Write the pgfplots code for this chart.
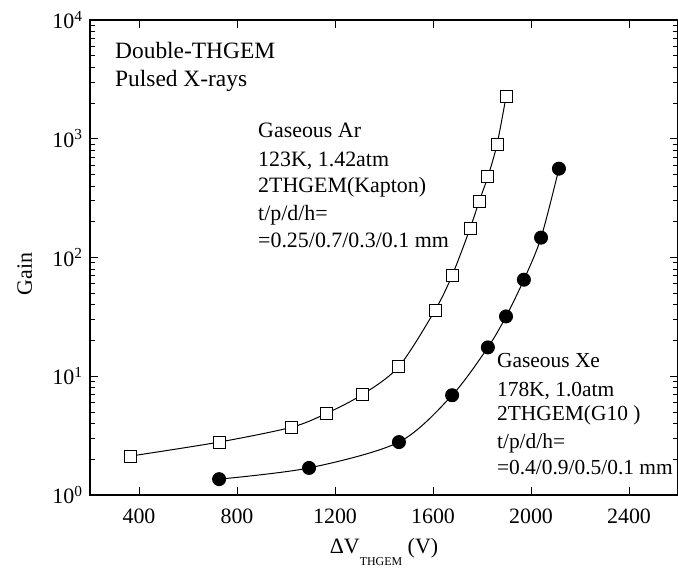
\documentclass[border=0pt]{standalone}
\usepackage{fontspec}
\setmainfont{Liberation Serif}
\usepackage{pgfplots}
\pgfplotsset{compat=1.18}
\usetikzlibrary{calc}
\begin{document}
\fontsize{22}{26}\selectfont
\begin{tikzpicture}
\begin{semilogyaxis}[
  at={(0,0)}, anchor=south west,
  scale only axis, width=588bp, height=475bp,
  xmin=200, xmax=2600, ymin=1, ymax=10000,
  xtick={400,800,1200,1600,2000,2400},
  xticklabels={400,800,1200,1600,2000,2400},
  ytick={1,10,100,1000,10000},
  yticklabels={10\textsuperscript{0},10\textsuperscript{1},10\textsuperscript{2},10\textsuperscript{3},10\textsuperscript{4}},
  tick align=inside, tick pos=both,
  major tick length=8bp, minor tick length=5bp,
  every tick/.style={black, line width=1pt},
  axis line style={line width=1.3pt},
  xminorticks=false,
  tick label style={font=\fontsize{22}{26}\selectfont},
  xticklabel style={yshift=-6bp},
  label style={font=\fontsize{22}{26}\selectfont},
  xlabel={ΔV\raisebox{-12bp}{\fontsize{12}{12}\selectfont THGEM} (V)},
  ylabel={Gain},
  xlabel style={at={(rel axis cs:0.5,0)}, anchor=base, yshift=-58bp},
  ylabel style={at={($(rel axis cs:0,0.465)+(-58bp,0)$)}, anchor=base},
  clip=false,
]
\addplot[black, line width=1pt, smooth, mark=square*, mark size=6bp, mark options={fill=white, line width=0.9pt}] coordinates {
(367,2.13) (727,2.79) (1024,3.73) (1167,4.89) (1314,7.06) (1461,12.1) (1608,35.9) (1678,70.6) (1751,175) (1788,296) (1824,480) (1861,891) (1898,2254)
};
\addplot[black, line width=1pt, smooth, mark=*, mark size=6.5bp, mark options={fill=black}] coordinates {
(727,1.36) (1094,1.69) (1461,2.79) (1678,6.92) (1824,17.5) (1898,31.9) (1971,65) (2041,147) (2114,560)
};
\node[anchor=base west, inner sep=0, font=\fontsize{23.5}{28}\selectfont] at (rel axis cs:0.0425,0.920) {Double-THGEM};
\node[anchor=base west, inner sep=0, font=\fontsize{23.5}{28}\selectfont] at (rel axis cs:0.0425,0.861) {Pulsed X-rays};
\node[anchor=base west, inner sep=0] at (rel axis cs:0.2857,0.7516) {Gaseous Ar};
\node[anchor=base west, inner sep=0] at (rel axis cs:0.2857,0.6926) {123K, 1.42atm};
\node[anchor=base west, inner sep=0] at (rel axis cs:0.2857,0.6358) {2THGEM(Kapton)};
\node[anchor=base west, inner sep=0] at (rel axis cs:0.2857,0.5789) {t/p/d/h=};
\node[anchor=base west, inner sep=0] at (rel axis cs:0.2857,0.5221) {=0.25/0.7/0.3/0.1 mm};
\node[anchor=base west, inner sep=0, font=\fontsize{21.5}{26}\selectfont] at (rel axis cs:0.692,0.2674) {Gaseous Xe};
\node[anchor=base west, inner sep=0, font=\fontsize{21.5}{26}\selectfont] at (rel axis cs:0.692,0.2084) {178K, 1.0atm};
\node[anchor=base west, inner sep=0, font=\fontsize{21.5}{26}\selectfont] at (rel axis cs:0.692,0.1558) {2THGEM(G10 )};
\node[anchor=base west, inner sep=0, font=\fontsize{21.5}{26}\selectfont] at (rel axis cs:0.692,0.0989) {t/p/d/h=};
\node[anchor=base west, inner sep=0, font=\fontsize{21.5}{26}\selectfont] at (rel axis cs:0.692,0.0442) {=0.4/0.9/0.5/0.1 mm};
\end{semilogyaxis}
\pgfresetboundingbox
\path (-90bp,-86bp) rectangle (588bp,495bp);
\end{tikzpicture}
\end{document}
